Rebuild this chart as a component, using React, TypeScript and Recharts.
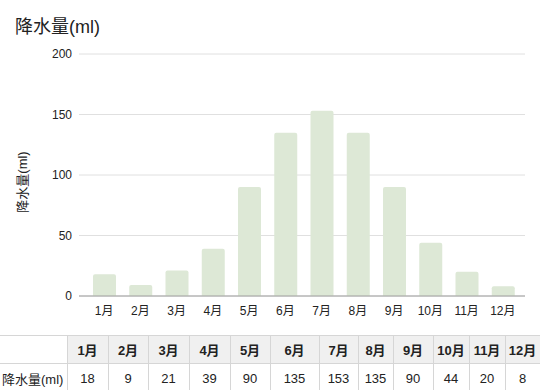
import { BarChart, Bar, XAxis, YAxis, CartesianGrid } from 'recharts';

const months = ['1月', '2月', '3月', '4月', '5月', '6月', '7月', '8月', '9月', '10月', '11月', '12月'];
const rainfall = [18, 9, 21, 39, 90, 135, 153, 135, 90, 44, 20, 8];
const yTicks = [0, 50, 100, 150, 200];
const seriesName = '降水量(ml)';
const colWidths = [67, 41, 40, 41, 41, 40, 49, 39, 35, 40, 36, 36, 35];

const data = months.map((m, i) => ({ month: m, value: rainfall[i] }));

const font = '"Liberation Sans", Arial, "Noto Sans CJK SC", sans-serif';

const cell = {
  border: '1px solid #d6d6d6',
  textAlign: 'center' as const,
  padding: 0,
  fontSize: 13,
  color: '#222',
};

const YLabel = (props: any) => {
  const vb = props.viewBox || { x: 0, y: 0, width: 0, height: 0 };
  const cx = 22;
  const cy = vb.y + vb.height / 2 + 7;
  return (
    <text
      x={cx}
      y={cy}
      transform={`rotate(-90 ${cx} ${cy})`}
      textAnchor="middle"
      dominantBaseline="central"
      fontSize={13}
      fill="#222"
      fontFamily={font}
    >
      {seriesName}
    </text>
  );
};

const App = () => {
  return (
    <div style={{ position: 'absolute', left: 0, top: 0, width: 540, height: 390, overflow: 'hidden', fontFamily: font, background: '#fff' }}>
      <div style={{ position: 'absolute', left: 15, top: 12, fontSize: 18, color: '#222' }}>{seriesName}</div>
      <BarChart width={540} height={330} data={data} margin={{ top: 54, right: 15, left: 0, bottom: 0 }}>
        <CartesianGrid vertical={false} stroke="#e0e0e0" />
        <XAxis
          dataKey="month"
          height={34}
          tickLine={false}
          tickSize={0}
          tickMargin={10}
          axisLine={{ stroke: '#9e9e9e' }}
          padding={{ left: 7, right: 4 }}
          tick={{ fontSize: 12, fill: '#222', fontFamily: font }}
          interval={0}
        />
        <YAxis
          width={79}
          domain={[0, 200]}
          ticks={yTicks}
          axisLine={false}
          tickLine={false}
          tickSize={5}
          tickMargin={2}
          tick={{ fontSize: 12, fill: '#222', fontFamily: font }}
          label={{ content: YLabel }}
        />
        <Bar dataKey="value" fill="#dde8d6" barSize={23} radius={[2, 2, 0, 0]} isAnimationActive={false} />
      </BarChart>
      <table style={{ position: 'absolute', left: 0, top: 335, borderCollapse: 'collapse', tableLayout: 'fixed', width: 540, fontFamily: font }}>
        <colgroup>
          {colWidths.map((w, i) => (
            <col key={i} style={{ width: w }} />
          ))}
        </colgroup>
        <tbody>
          <tr style={{ height: 28 }}>
            <td style={{ ...cell, borderLeft: 'none' }}></td>
            {months.map((m) => (
              <td key={m} style={{ ...cell, background: '#f0f0f0', fontWeight: 'bold' }}>{m}</td>
            ))}
          </tr>
          <tr style={{ height: 30 }}>
            <td style={{ ...cell, borderLeft: 'none', textAlign: 'left', paddingLeft: 2 }}>{seriesName}</td>
            {rainfall.map((v, i) => (
              <td key={i} style={cell}>{v}</td>
            ))}
          </tr>
        </tbody>
      </table>
    </div>
  );
};

export default App;
